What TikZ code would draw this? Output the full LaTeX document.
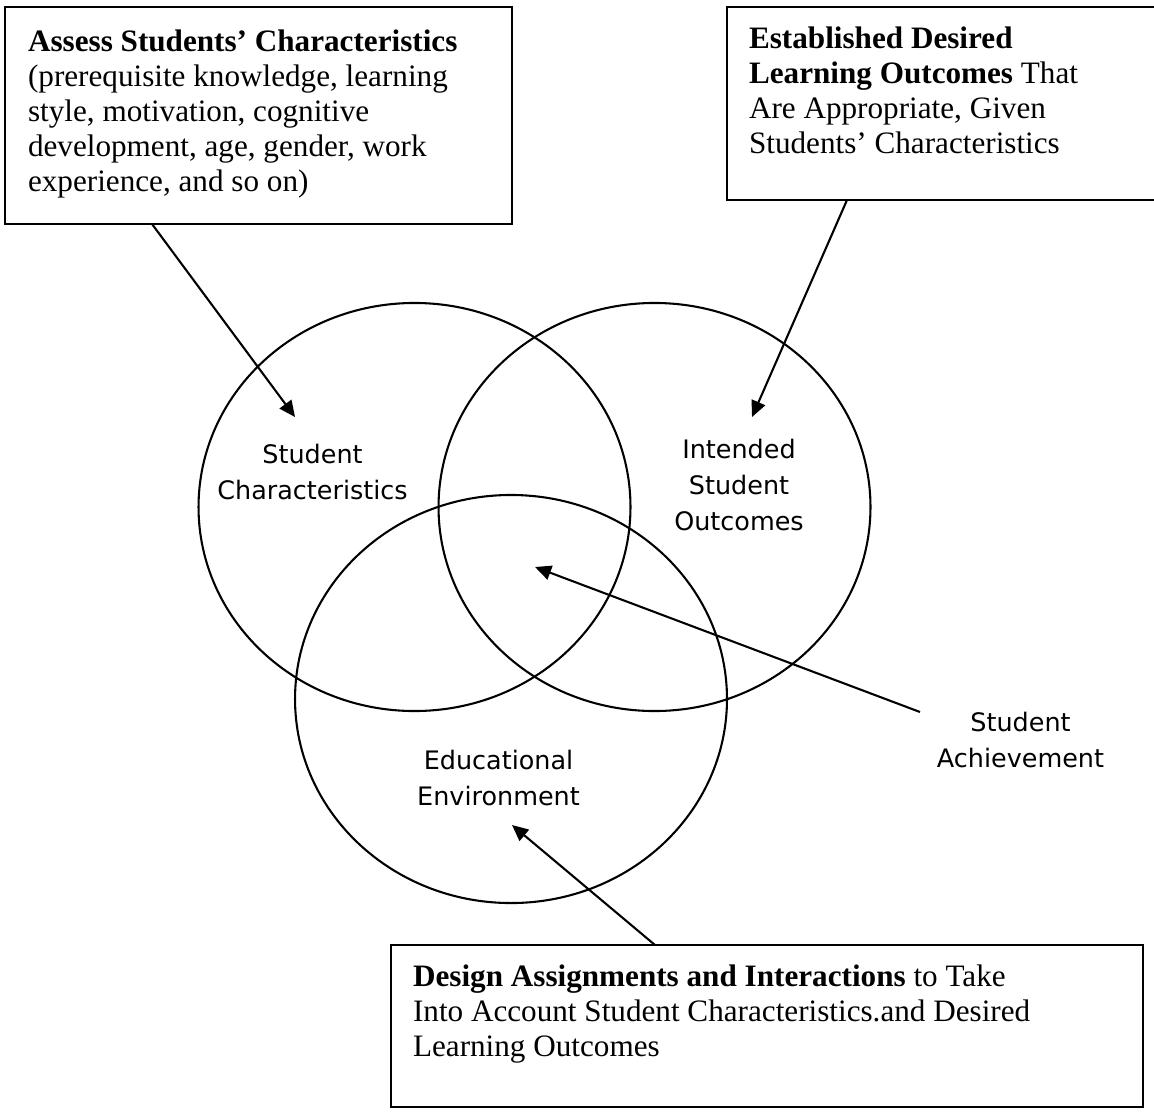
\documentclass[tikz,border=0pt]{standalone}
\usepackage{fontspec}
\setmainfont{Liberation Serif}
\newfontfamily\circlabelfont{DejaVu Sans}
\usetikzlibrary{shapes.geometric,arrows.meta,fit}
\begin{document}
\begin{tikzpicture}[x=0.385pt, y=-0.385pt, line width=0.8pt,
  venn/.style={draw, ellipse, minimum width=166.3pt, minimum height=157.1pt, inner sep=0pt},
  frame/.style={draw, rectangle, inner sep=0pt, line width=0.9pt},
  boxtext/.style={anchor=north west, inner sep=0pt, align=left,
    font=\fontsize{12}{13.475}\selectfont},
  venntext/.style={anchor=north, inner sep=0pt, align=center,
    font=\circlabelfont\fontsize{9.8}{13.86}\selectfont},
  arr/.style={-{Triangle[length=6.2pt, width=5.6pt]}}]

% page area
\useasboundingbox (0,0) rectangle (1154,1111);
\fill[white] (0,0) rectangle (1154,1111);
\clip (0,0) rectangle (1154,1111);

% the three overlapping sets
\node[venn] (sc)  at (414.5,507) {};
\node[venn] (iso) at (654.5,507) {};
\node[venn] (ee)  at (511,699) {};

% set labels
\node[venntext] (lsc)  at (312.5,443) {Student\\Characteristics};
\node[venntext] (liso) at (739,438)   {Intended\\Student\\Outcomes};
\node[venntext] (lach) at (1020.5,711) {Student\\Achievement};
\node[venntext] (lee)  at (498.5,749) {Educational\\Environment};

% text boxes
\coordinate (b1a) at (5,7);    \coordinate (b1b) at (512,224);
\coordinate (b2a) at (727,7);  \coordinate (b2b) at (1175,200);
\coordinate (b3a) at (391,945); \coordinate (b3b) at (1143,1107);
\node[frame, fit=(b1a)(b1b)] (box1) {};
\node[frame, fit=(b2a)(b2b)] (box2) {};
\node[frame, fit=(b3a)(b3b)] (box3) {};

\node[boxtext] (t1) at (27,29) {\textbf{Assess Students’ Characteristics}\\
  (prerequisite knowledge, learning\\
  style, motivation, cognitive\\
  development, age, gender, work\\
  experience, and so on)};
\node[boxtext] (t2) at (748,26) {\textbf{Established Desired}\\
  \textbf{Learning Outcomes} That\\
  Are Appropriate, Given\\
  Students’ Characteristics};
\node[boxtext] (t3) at (412,964) {\textbf{Design Assignments and Interactions} to Take\\
  Into Account Student Characteristics.and Desired\\
  Learning Outcomes};

% arrow end points
\coordinate (a1s) at (152,224);  \coordinate (a1e) at (295,417);
\coordinate (a2s) at (847,200);  \coordinate (a2e) at (752,417);
\coordinate (a3s) at (920,712);  \coordinate (a3e) at (535,567);
\coordinate (a4s) at (655,945);  \coordinate (a4e) at (512,825);

\draw[arr] (a1s) -- (a1e);
\draw[arr] (a2s) -- (a2e);
\draw[arr] (a3s) -- (a3e);
\draw[arr] (a4s) -- (a4e);
\end{tikzpicture}
\end{document}
